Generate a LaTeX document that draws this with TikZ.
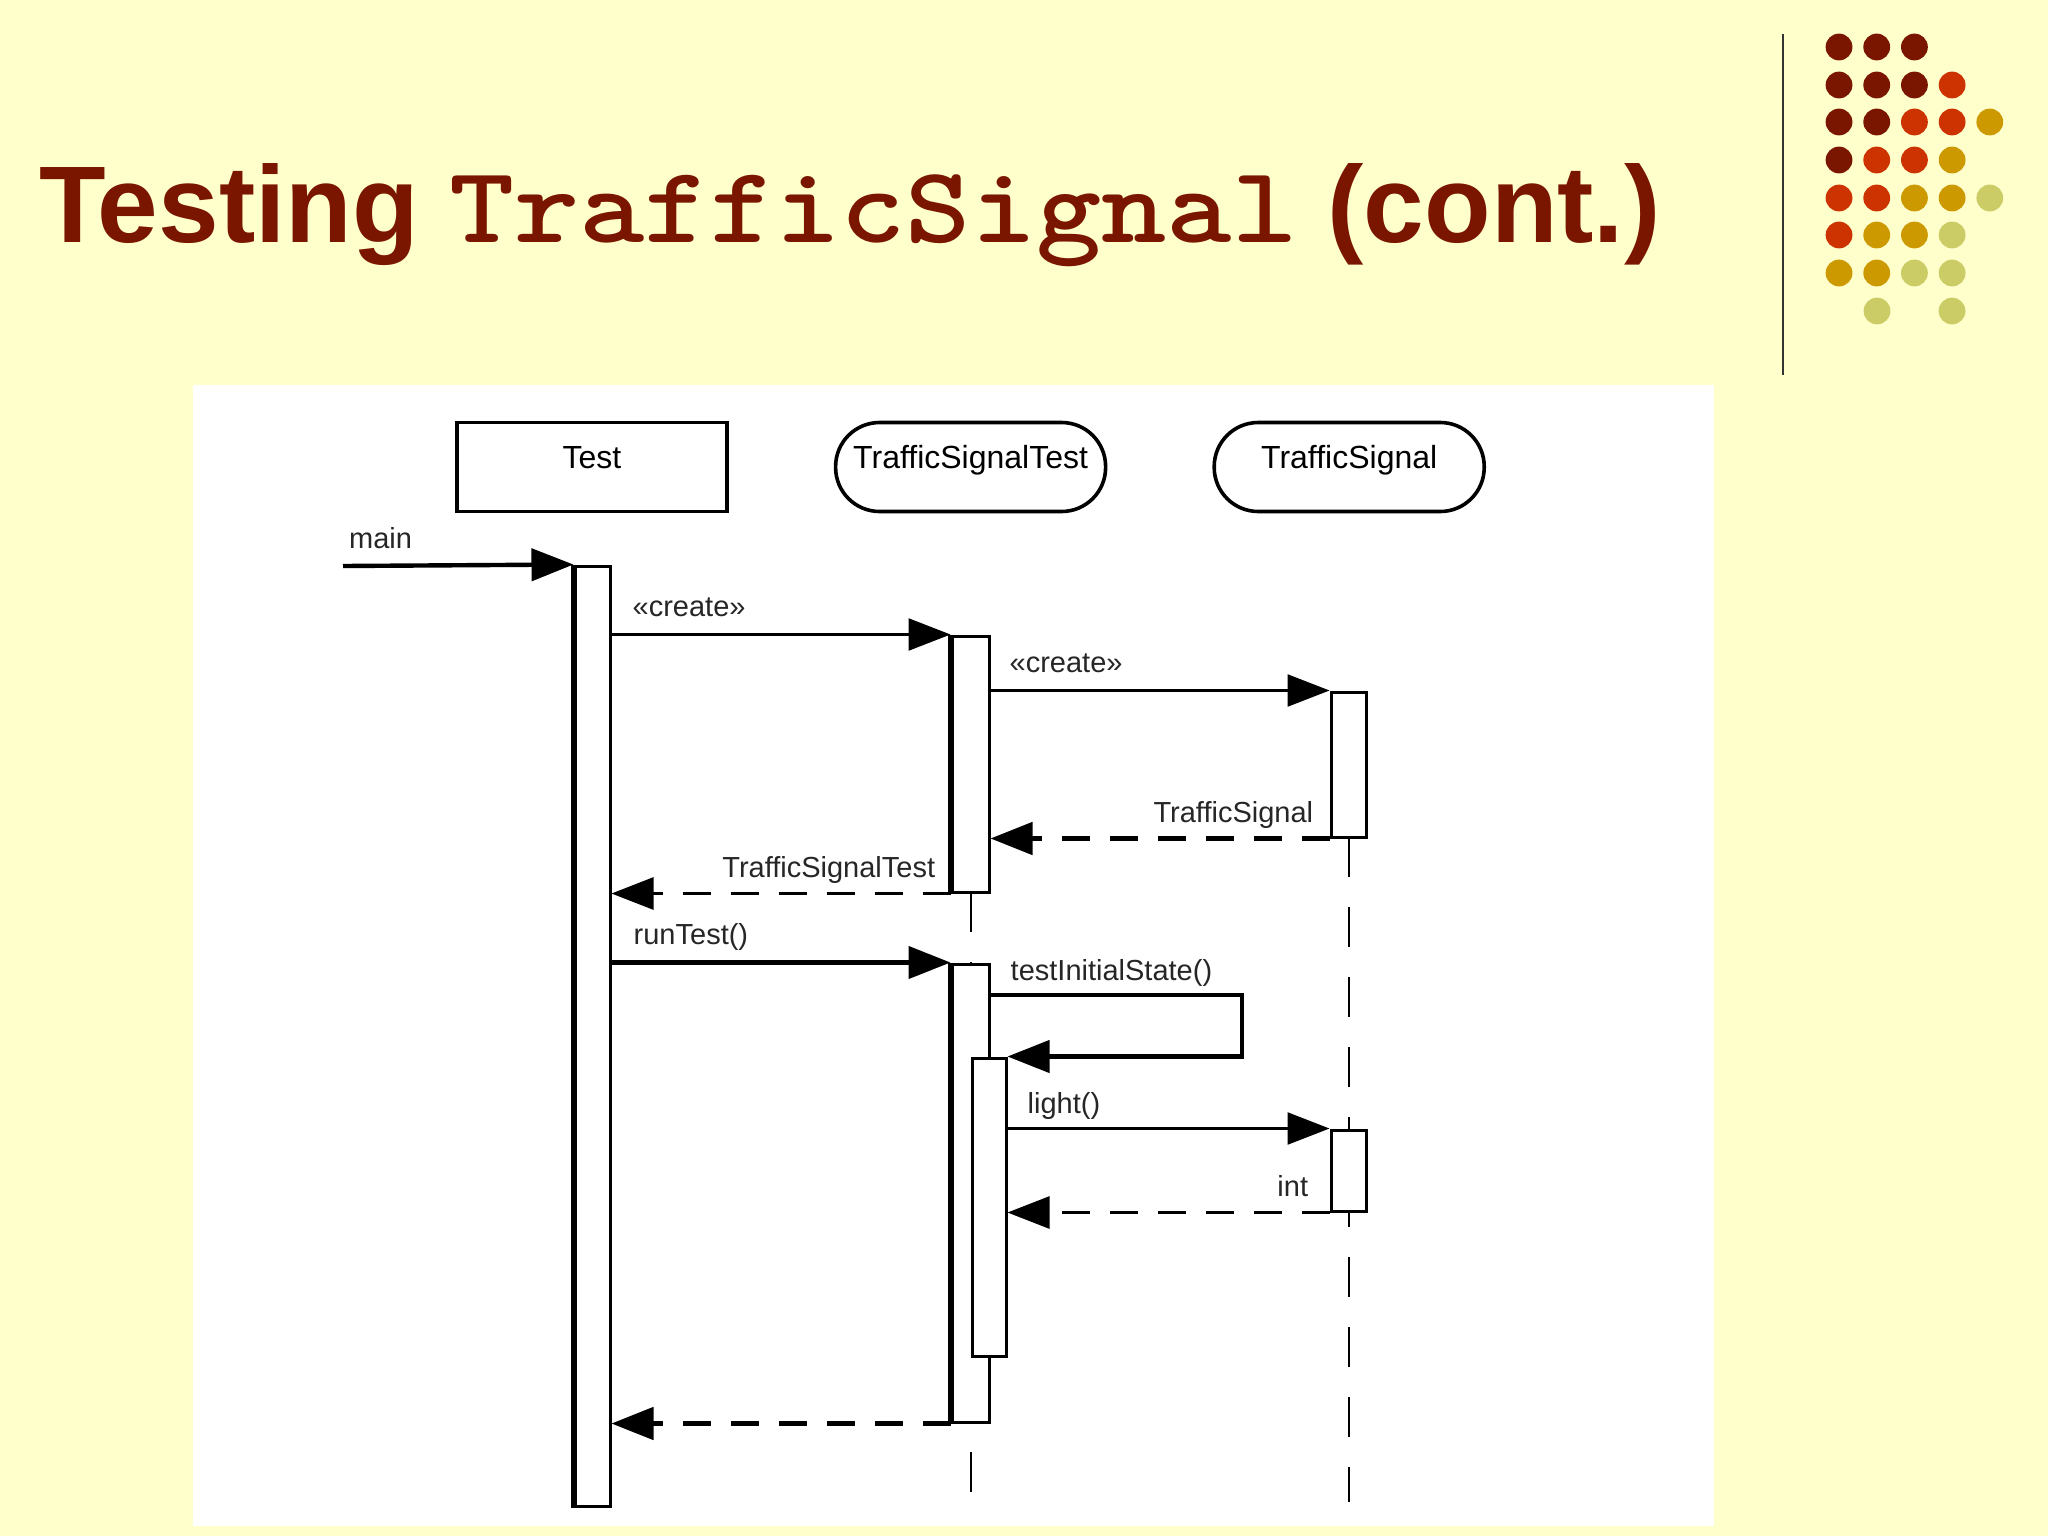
\documentclass[tikz,border=0pt]{standalone}
\usepackage{fontspec}
\usepackage{graphicx}
\setmainfont{Liberation Sans}
\usetikzlibrary{arrows.meta,positioning}

\definecolor{slidebg}{HTML}{FFFFCC}
\definecolor{titlered}{HTML}{7A1500}
\definecolor{dotd}{HTML}{7A1500}
\definecolor{dotr}{HTML}{CC3300}
\definecolor{dotg}{HTML}{CC9900}
\definecolor{dotl}{HTML}{CCCC66}

\tikzset{
  heading/.style={anchor=base west, inner sep=0pt, text=titlered, font=\fontsize{54.5}{60}\selectfont\bfseries},
  rule/.style={draw=black!80, line width=1pt},
  head/.style={draw, line width=1.8pt, fill=white, minimum width=135pt, minimum height=44.5pt, text depth=10pt, font=\fontsize{16}{18}\selectfont},
  obj/.style={head, rounded corners=22pt},
  actbar/.style={draw, line width=1.5pt, fill=white, minimum width=17.5pt, inner sep=0pt},
  barside/.style={line width=2.8pt},
  lifeline/.style={line width=1pt, dash pattern=on 20pt off 15pt},
  callthin/.style={->, line width=1.2pt},
  callthick/.style={->, line width=2.2pt},
  retthin/.style={->, line width=1.4pt, dash pattern=on 14pt off 10pt},
  retthick/.style={->, line width=2.4pt, dash pattern=on 14pt off 10pt},
  msg/.style={pos=0, anchor=base west, inner sep=0pt, yshift=9pt, text=black!85, font=\fontsize{14.5}{16}\selectfont},
  retmsg/.style={pos=0, anchor=base east, inner sep=0pt, xshift=-7pt, yshift=8pt, text=black!85, font=\fontsize{14.5}{16}\selectfont}
}

\begin{document}
\begin{tikzpicture}[x=0.5pt, y=-0.5pt, >={Triangle[length=21pt,width=16pt]}, node distance=52.5pt]

% slide
\fill[slidebg] (0,0) rectangle (2048,1536);
\useasboundingbox (0,0) rectangle (2048,1536);
\node[heading] (title) at (39,242) {Testing \scalebox{1.14}[1]{\ttfamily TrafficSignal} (cont.)};
\draw[rule] (1783,34) -- (1783,375);
\foreach \ry/\row in {47/{d,d,d}, 85/{d,d,d,r}, 122/{d,d,r,r,g}, 160/{d,r,r,g}, 198/{r,r,g,g,l}, 235/{r,g,g,l}, 273/{g,g,l,l}}
  \foreach \c [count=\i] in \row
    \fill[dot\c] ({1801.3+37.7*\i},\ry) circle[radius=6.7pt];
\fill[dotl] (1877,311) circle[radius=6.7pt] (1952,311) circle[radius=6.7pt];
\fill[white] (193,385) rectangle (1714,1526);

% objects
\node[head] (test) at (592,467) {Test};
\node[obj] (tst) [right=of test] {TrafficSignalTest};
\node[obj] (ts) [right=of tst] {TrafficSignal};

% lifelines
\coordinate (tstlife) at (970.5,892);
\coordinate (tslife) at (1348.5,837);
\coordinate (lifeend) at (0,1502);
\draw[lifeline] (tstlife) -- (tstlife |- lifeend);
\draw[lifeline] (tslife) -- (tslife |- lifeend);

% activations
\node[actbar, minimum height=470pt] (testbar) at (592.5,1036) {};
\node[actbar, minimum width=18.5pt, minimum height=128pt] (tstbarA) at (970.5,764) {};
\node[actbar, minimum height=72.5pt] (tsbarA) at (1348.5,764.5) {};
\node[actbar, minimum width=18.5pt, minimum height=229pt] (tstbarB) at (970.5,1193) {};
\node[actbar, minimum width=17pt, minimum height=149pt] (nestbar) at (989,1207) {};
\node[actbar, minimum height=40.5pt] (tsbarB) at (1348.5,1170.5) {};
\foreach \b in {testbar,tstbarA,tstbarB}
  \draw[barside] (\b.north west) -- (\b.south west);

% messages
\coordinate (mainin) at (343,566);
\coordinate (selfturn) at (1242,995);
\path[callthick] (mainin) edge node[msg, xshift=2pt] {main} (testbar.north west);
\path[callthin] (testbar.east |- tstbarA.north) edge node[msg, xshift=10pt] {«create»} (tstbarA.north west);
\path[callthin] (tstbarA.east |- tsbarA.north) edge node[msg, xshift=9pt] {«create»} (tsbarA.north west);
\path[retthick] (tsbarA.south west) edge node[retmsg] {TrafficSignal} (tstbarA.east |- tsbarA.south);
\path[retthin] (tstbarA.south west) edge node[retmsg] {TrafficSignalTest} (testbar.east |- tstbarA.south);
\path[callthick] (testbar.east |- tstbarB.north) edge node[msg, xshift=10pt] {runTest()} (tstbarB.north west);
\draw[callthick] (tstbarB.east |- selfturn) -- node[msg, xshift=9pt, yshift=-1.5pt] {testInitialState()} (selfturn) |- (nestbar.north east);
\path[callthin] (nestbar.east |- tsbarB.north) edge node[msg, xshift=9.5pt, yshift=-1.5pt] {light()} (tsbarB.north west);
\path[retthin] (tsbarB.south west) edge node[retmsg, xshift=-3pt] {int} (nestbar.east |- tsbarB.south);
\path[retthick] (tstbarB.south west) edge (testbar.east |- tstbarB.south);

\end{tikzpicture}
\end{document}
